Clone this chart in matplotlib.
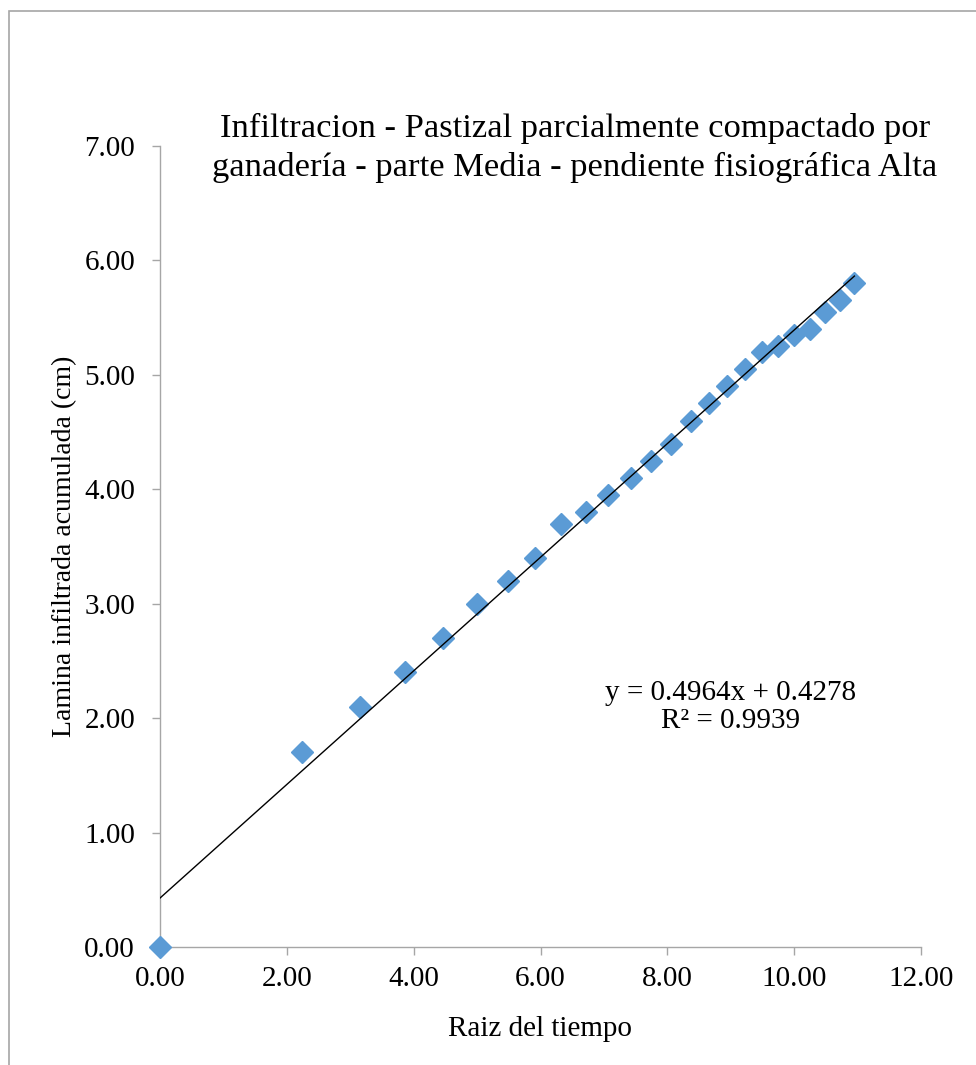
import matplotlib
matplotlib.use('Agg')
import matplotlib.pyplot as plt
import numpy as np

plt.rcParams['font.family'] = ['Liberation Serif', 'DejaVu Serif']

# datos: raiz del tiempo vs lamina infiltrada acumulada
raiz_tiempo = [0.00, 2.24, 3.16, 3.87, 4.47, 5.00, 5.48, 5.92, 6.32, 6.71,
               7.07, 7.42, 7.75, 8.06, 8.37, 8.66, 8.94, 9.22, 9.49, 9.75,
               10.00, 10.25, 10.49, 10.72, 10.95]
lamina = [0.00, 1.70, 2.10, 2.40, 2.70, 3.00, 3.20, 3.40, 3.70, 3.80,
          3.95, 4.10, 4.25, 4.40, 4.60, 4.75, 4.90, 5.05, 5.20, 5.25,
          5.35, 5.40, 5.55, 5.65, 5.80]
pendiente = 0.4964
intercepto = 0.4278
r2 = 0.9939

W, H = 976, 1065
fig = plt.figure(figsize=(W / 100, H / 100), dpi=100)
fig.patch.set_facecolor('white')

# marco exterior
fig.add_artist(plt.Rectangle((9 / W, -0.5), 1.5, 1.5 - 11 / H, transform=fig.transFigure,
                             fill=False, edgecolor='#A6A6A6', linewidth=1.2))

ax = fig.add_axes([160 / W, (H - 947) / H, (921 - 160) / W, (947 - 146) / H])

x = np.array(raiz_tiempo)
ax.plot(x, lamina, linestyle='none', marker='D', markersize=11,
        markerfacecolor='#5B9BD5', markeredgecolor='#5B9BD5', zorder=3, clip_on=False)

# linea de tendencia
xt = np.array([0, max(raiz_tiempo)])
ax.plot(xt, pendiente * xt + intercepto, color='black', linewidth=1.0, zorder=4)

ax.set_xlim(0, 12)
ax.set_ylim(0, 7)
ax.set_xticks(np.arange(0, 12.1, 2))
ax.set_yticks(np.arange(0, 7.1, 1))
ax.xaxis.set_major_formatter(matplotlib.ticker.FormatStrFormatter('%.2f'))
ax.yaxis.set_major_formatter(matplotlib.ticker.FormatStrFormatter('%.2f'))
ax.tick_params(axis='both', labelsize=21, color='#A6A6A6', length=6, width=1)
ax.tick_params(axis='x', pad=8)
ax.tick_params(axis='y', pad=12)

for s in ['top', 'right']:
    ax.spines[s].set_visible(False)
for s in ['left', 'bottom']:
    ax.spines[s].set_color('#A6A6A6')
    ax.spines[s].set_linewidth(1)

ax.set_xlabel('Raiz del tiempo', fontsize=21, labelpad=17)
ax.set_ylabel('Lamina infiltrada acumulada (cm)', fontsize=20, labelpad=5)

fig.text(575 / W, 1 - 148 / H,
         'Infiltracion - Pastizal parcialmente compactado por\nganadería - parte Media - pendiente fisiográfica Alta',
         ha='center', va='center', fontsize=24.8, linespacing=1.3)

ax.text(8.99, 2.10, f'y = {pendiente}x + {intercepto}\nR² = {r2}',
        ha='center', va='center', fontsize=21, linespacing=1.1)

fig.savefig('out.png', dpi=100, facecolor='white')
